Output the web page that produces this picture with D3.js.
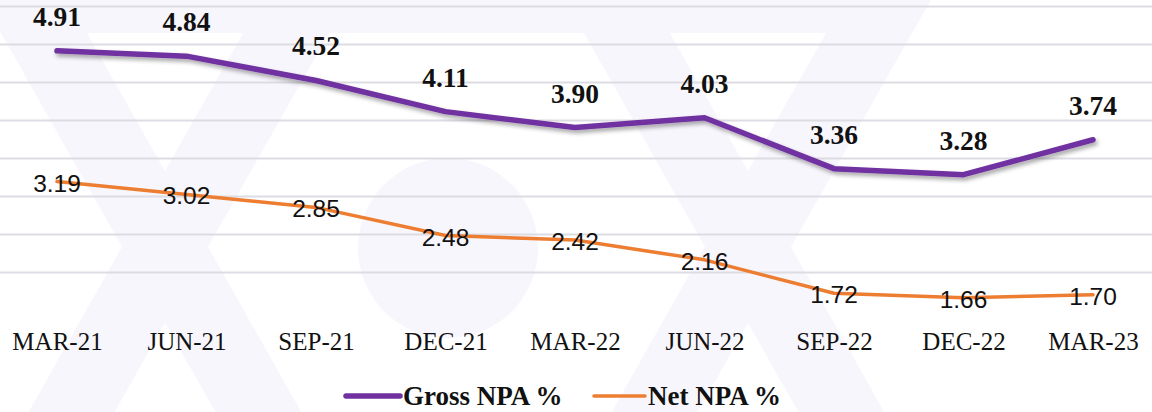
<!DOCTYPE html>
<html><head><meta charset="utf-8">
<script src="https://cdn.jsdelivr.net/npm/d3@7"></script>
<style>html,body{margin:0;padding:0;background:#fff;}svg{display:block;}</style>
</head><body>
<div id="chart"></div>
<script>
const categories = ["MAR-21","JUN-21","SEP-21","DEC-21","MAR-22","JUN-22","SEP-22","DEC-22","MAR-23"];
const grossNPA = [4.91,4.84,4.52,4.11,3.90,4.03,3.36,3.28,3.74];
const netNPA = [3.19,3.02,2.85,2.48,2.42,2.16,1.72,1.66,1.70];
const gridTicks = [2.0,2.5,3.0,3.5,4.0,4.5,5.0,5.5];
const seriesNames = ["Gross NPA %","Net NPA %"];

const SERIF = "Liberation Serif, Tinos, Times New Roman, serif";
const W = 1152, H = 412;
const svg = d3.select("#chart").append("svg").attr("width", W).attr("height", H);

const defs = svg.append("defs");
const f = defs.append("filter").attr("id","shadow").attr("x","-10%").attr("y","-50%").attr("width","120%").attr("height","200%");
f.append("feDropShadow").attr("dx",2).attr("dy",3).attr("stdDeviation",2).attr("flood-color","#000").attr("flood-opacity",0.35);

// watermark
const wm = svg.append("g").attr("fill","#F8F6FD");
const s = 0.566, w = 43, cy = 247;
function band(cx, dir) {
  const y0 = -20, y1 = 430;
  const c0 = cx + dir * s * (y0 - cy), c1 = cx + dir * s * (y1 - cy);
  return [[c0 - w, y0],[c0 + w, y0],[c1 + w, y1],[c1 - w, y1]];
}
[165, 748].forEach(cx => {
  wm.append("polygon").attr("points", band(cx, 1).join(" "));
  wm.append("polygon").attr("points", band(cx, -1).join(" "));
});
wm.append("polygon").attr("points", [[0,0],[931,0],[912,33],[0,33]].join(" "));
wm.append("circle").attr("cx",448).attr("cy",248).attr("r",90);

const x = d3.scalePoint().domain(categories).range([57, 1093]);
const y = d3.scaleLinear().domain([1.5, 5.5]).range([310, 6]);

// gridlines
const yAxis = d3.axisLeft(y).tickValues(gridTicks).tickSize(-W).tickFormat("");
const gy = svg.append("g").call(yAxis);
gy.select(".domain").remove();
gy.selectAll(".tick line").attr("stroke","#DEDCE3").attr("stroke-width",2);

// x axis labels
const xAxis = d3.axisBottom(x).tickSize(0).tickPadding(0);
const gx = svg.append("g").attr("transform","translate(0,331)").call(xAxis);
gx.select(".domain").remove();
gx.selectAll(".tick text").attr("font-family",SERIF).attr("font-size",25)
  .attr("fill","#111").attr("dy",0).attr("y",19);

const line = d3.line().x((d,i)=>x(categories[i])).y(d=>y(d));

svg.append("path").datum(netNPA).attr("d",line).attr("fill","none")
  .attr("stroke","#ED7D31").attr("stroke-width",3.5).attr("stroke-linejoin","round").attr("stroke-linecap","round");
svg.append("path").datum(grossNPA).attr("d",line).attr("fill","none")
  .attr("stroke","#7030A0").attr("stroke-width",5.5).attr("stroke-linejoin","round").attr("stroke-linecap","round")
  .attr("filter","url(#shadow)");

// labels
svg.append("g").selectAll("text").data(grossNPA).join("text")
  .attr("x",(d,i)=>x(categories[i])).attr("y",d=>y(d)-25)
  .attr("text-anchor","middle").attr("font-family",SERIF).attr("font-weight","bold")
  .attr("font-size",27.5).attr("fill","#111").text(d=>d.toFixed(2));
svg.append("g").selectAll("text").data(netNPA).join("text")
  .attr("x",(d,i)=>x(categories[i])).attr("y",d=>y(d)+10)
  .attr("text-anchor","middle").attr("font-family","Liberation Sans, Arimo, Arial, sans-serif")
  .attr("font-size",24.5).attr("fill","#111").text(d=>d.toFixed(2));

// legend
const leg = svg.append("g");
const legItems = [
  {name: seriesNames[0], color:"#7030A0", sw:5.5, x1:346, x2:400, tx:403},
  {name: seriesNames[1], color:"#ED7D31", sw:3.5, x1:594, x2:645, tx:648}
];
legItems.forEach(it => {
  leg.append("line").attr("x1",it.x1).attr("x2",it.x2).attr("y1",396).attr("y2",396)
    .attr("stroke",it.color).attr("stroke-width",it.sw).attr("stroke-linecap","round");
  leg.append("text").attr("x",it.tx).attr("y",405).attr("font-family",SERIF)
    .attr("font-weight","bold").attr("font-size",27).attr("fill","#111").text(it.name);
});
</script>
</body></html>
